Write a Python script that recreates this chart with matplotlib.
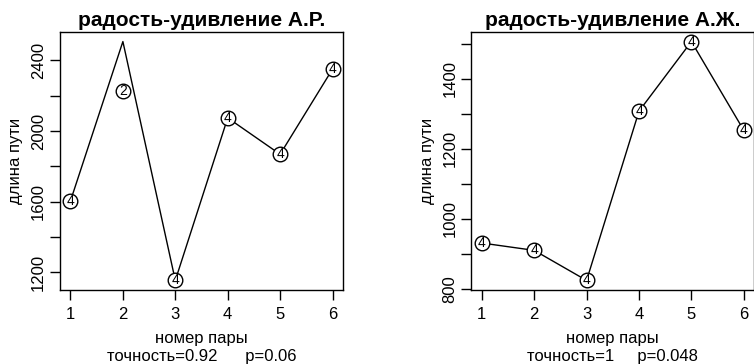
import matplotlib
matplotlib.use("Agg")
import matplotlib.pyplot as plt

plt.rcParams['font.family'] = ['Liberation Sans', 'DejaVu Sans']

pairs = [1, 2, 3, 4, 5, 6]

left_title = "радость-удивление А.Р."
left_line = [1605, 2507, 1155, 2075, 1869, 2351]
left_points = [1605, 2225, 1155, 2075, 1869, 2351]
left_labels = ["4", "2", "4", "4", "4", "4"]
left_sub = "точность=0.92      p=0.06"
left_yticks = [1200, 1400, 1600, 1800, 2000, 2200, 2400]
left_ylabels = ["1200", "", "1600", "", "2000", "", "2400"]

right_title = "радость-удивление А.Ж."
right_line = [931, 910, 824, 1308, 1507, 1253]
right_points = [931, 910, 824, 1308, 1507, 1253]
right_labels = ["4", "4", "4", "4", "4", "4"]
right_sub = "точность=1     p=0.048"
right_yticks = [800, 900, 1000, 1100, 1200, 1300, 1400, 1500]
right_ylabels = ["800", "", "1000", "", "1200", "", "1400", ""]

W, H = 754, 364
fig = plt.figure(figsize=(W / 100, H / 100), dpi=100)


def panel(x0, x1, title, line, pts, labels, sub, yticks, ylabels, ylab_right):
    top, bottom = 32, 290
    ax = fig.add_axes([x0 / W, (H - bottom) / H, (x1 - x0) / W, (bottom - top) / H])
    ax.plot(pairs, line, color='black', lw=1)
    ax.plot(pairs, pts, linestyle='none', marker='o', ms=10.5, mfc='white',
            mec='black', mew=1)
    for x, y, t in zip(pairs, pts, labels):
        ax.text(x, y, t, ha='center', va='center', fontsize=10, color='black')
    lo = min(min(line), min(pts))
    hi = max(max(line), max(pts))
    r = hi - lo
    ax.set_ylim(lo - 0.04 * r, hi + 0.04 * r)
    ax.set_xlim(0.8, 6.2)
    ax.set_xticks(pairs)
    ax.set_xticklabels([str(p) for p in pairs], fontsize=12)
    ax.set_yticks(yticks)
    ax.set_yticklabels(ylabels, fontsize=12, rotation=90, va='center')
    ax.tick_params(direction='out', length=7, width=1, pad=3)
    ax.tick_params(axis='x', pad=5)
    for s in ax.spines.values():
        s.set_linewidth(1)
    ax.set_title(title, fontsize=15, fontweight='bold', pad=4)
    ax.set_ylabel("длина пути", fontsize=12)
    ax.yaxis.set_label_coords(-(x0 - ylab_right) / (x1 - x0), 0.5)
    cx = (x0 + x1) / 2 / W
    fig.text(cx, (H - 338) / H, "номер пары", ha='center', va='center', fontsize=12)
    fig.text(cx, (H - 357) / H, sub, ha='center', va='center', fontsize=12)
    return ax


axl = panel(60, 343, left_title, left_line, left_points, left_labels, left_sub,
            left_yticks, left_ylabels, 23)
axr = panel(471.3, 754.3, right_title, right_line, right_points, right_labels,
            right_sub, right_yticks, right_ylabels, 435)

fig.savefig("out.png", dpi=100)
